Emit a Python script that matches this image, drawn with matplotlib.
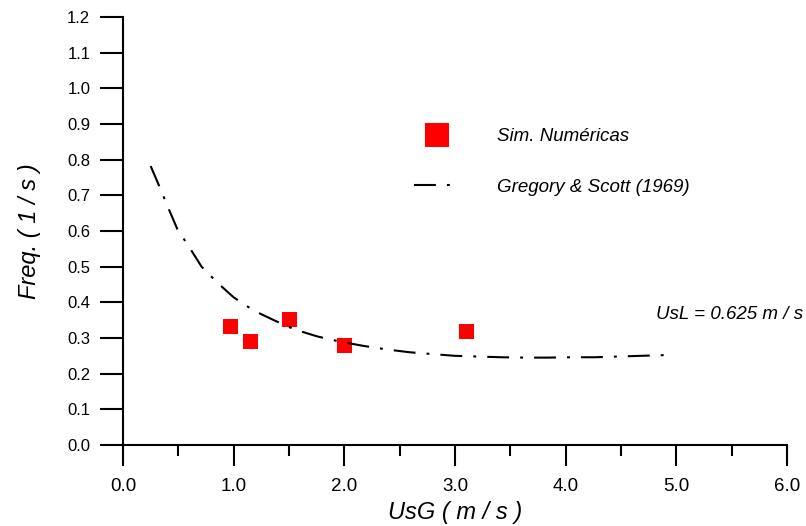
import matplotlib as mpl
mpl.use('Agg')
import matplotlib.pyplot as plt

plt.rcParams['font.family'] = ['Liberation Sans', 'DejaVu Sans']

# simulated points
sim_usg = [0.97, 1.15, 1.50, 2.00, 3.10]
sim_freq = [0.334, 0.292, 0.353, 0.280, 0.321]

# Gregory & Scott (1969) curve
gs_usg = [0.25, 0.33, 0.41, 0.49, 0.60, 0.71, 0.86, 1.00, 1.18, 1.37, 1.55,
          1.76, 1.96, 2.17, 2.38, 2.59, 2.79, 3.00, 3.21, 3.42, 3.63, 3.84,
          4.05, 4.26, 4.47, 4.68, 4.90]
gs_freq = [0.782, 0.724, 0.664, 0.606, 0.554, 0.500, 0.453, 0.414, 0.377,
           0.349, 0.324, 0.304, 0.290, 0.278, 0.268, 0.260, 0.255, 0.250,
           0.248, 0.246, 0.245, 0.245, 0.246, 0.246, 0.248, 0.250, 0.252]

fig = plt.figure(figsize=(8.06, 5.26), dpi=100)
ax = fig.add_axes([0.1526, 0.154, 0.8238, 0.8137])

ax.plot(sim_usg, sim_freq, 's', color='#ff0000', markersize=10.8,
        markeredgewidth=0, label='Sim. Numéricas', zorder=2)
ax.plot(gs_usg, gs_freq, color='black', linewidth=1.5,
        linestyle=(0, (10.5, 5.3, 1.4, 5.3)), label='Gregory & Scott (1969)',
        zorder=3)

ax.set_xlim(0, 6)
ax.set_ylim(0, 1.2)
ax.set_xticks([0, 1, 2, 3, 4, 5, 6])
ax.set_xticks([0.5, 1.5, 2.5, 3.5, 4.5, 5.5], minor=True)
ax.set_xticklabels(['0.0', '1.0', '2.0', '3.0', '4.0', '5.0', '6.0'])
ax.set_yticks([i / 10 for i in range(13)])
ax.set_yticklabels([f'{i / 10:.1f}' for i in range(13)])

for s in ['top', 'right']:
    ax.spines[s].set_visible(False)
for s in ['left', 'bottom']:
    ax.spines[s].set_linewidth(1.5)

ax.tick_params(axis='y', which='major', direction='out', length=16.5,
               width=1.5, pad=7, labelsize=12)
ax.tick_params(axis='x', which='major', direction='out', length=15,
               width=1.5, pad=9, labelsize=13.5)
ax.tick_params(axis='x', which='minor', direction='out', length=8, width=1.5)

ax.set_xlabel('UsG ( m / s )', fontsize=17, fontstyle='italic', labelpad=4)
ax.set_ylabel('Freq. ( 1 / s )', fontsize=17, fontstyle='italic', labelpad=19)

ax.text(4.82, 0.367, 'UsL = 0.625 m / s', fontsize=13.5, fontstyle='italic',
        va='center', ha='left', clip_on=False)

leg = ax.legend(loc='upper left', bbox_to_anchor=(0.438, 0.740), frameon=False,
                borderpad=0, borderaxespad=0,
                markerscale=1.6, handlelength=2.45, handletextpad=2.0,
                labelspacing=1.77, prop={'size': 13.5, 'style': 'italic'})

fig.savefig('out.png', dpi=100)
